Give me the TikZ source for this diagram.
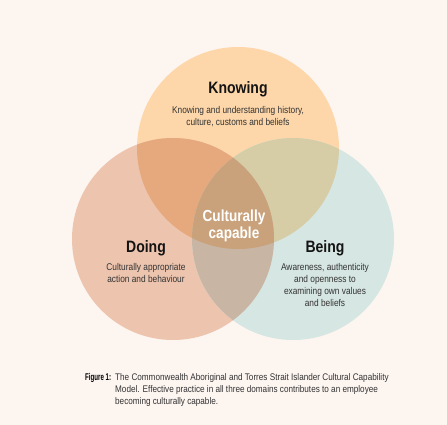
\documentclass[tikz,border=0pt]{standalone}
\usepackage{fontspec}
\setmainfont{Liberation Sans}[FakeStretch=0.85]
\usepackage{xcolor}
\usepackage{graphicx}
\usetikzlibrary{positioning}

\definecolor{bgcol}{HTML}{FDF5F0}
\definecolor{knowcol}{HTML}{FDD7AA}
\definecolor{doingcol}{HTML}{EDC4AE}
\definecolor{beingcol}{HTML}{D6E6E2}
\definecolor{kdcol}{HTML}{E6A97D}
\definecolor{kbcol}{HTML}{D6CCA5}
\definecolor{dbcol}{HTML}{C8B5A3}
\definecolor{allcol}{HTML}{C9A27B}

\begin{document}
\begin{tikzpicture}[
    x=1pt, y=-1pt,
    head/.style={anchor=base, font=\fontsize{16.5}{18}\selectfont\bfseries,
                 text=black!92, inner sep=0pt},
    desc/.style={anchor=base, align=center, inner sep=0pt,
                 font=\fontsize{9.8}{12}\selectfont, text=black!80},
    core/.style={anchor=base, align=center, inner sep=0pt, text=white,
                 font=\fontsize{16}{17}\selectfont\bfseries},
    capt/.style={anchor=base west, align=left, inner sep=0pt,
                 font=\fontsize{9.6}{12}\selectfont, text=black!80},
  ]
    \fill[bgcol] (0,0) rectangle (447,425);
    \useasboundingbox (0,0) rectangle (447,425);

    \coordinate (know)  at (238,148);
    \coordinate (doing) at (173,239);
    \coordinate (being) at (293,239);

    \fill[knowcol]  (know)  circle (101pt);
    \fill[doingcol] (doing) circle (101pt);
    \fill[beingcol] (being) circle (101pt);
    \begin{scope}
      \clip (know) circle (101pt);
      \fill[kdcol] (doing) circle (101pt);
      \fill[kbcol] (being) circle (101pt);
    \end{scope}
    \begin{scope}
      \clip (doing) circle (101pt);
      \fill[dbcol] (being) circle (101pt);
    \end{scope}
    \begin{scope}
      \clip (know) circle (101pt);
      \clip (doing) circle (101pt);
      \fill[allcol] (being) circle (101pt);
    \end{scope}

    \node[head] (knowhead) at (238,94) {Knowing};
    \node[desc] (knowtext) at (238,125)
      {Knowing and understanding history,\\ culture, customs and beliefs};
    \node[head] (doinghead) at (146,252) {Doing};
    \node[desc] (doingtext) at (146,282)
      {Culturally appropriate\\ action and behaviour};
    \node[head] (beinghead) at (325,252) {Being};
    \node[desc] (beingtext) at (325,306)
      {Awareness, authenticity\\ and openness to\\ examining own values\\ and beliefs};
    \node[core] (capable) at (234,238) {Culturally\\ capable};

    \node[capt, font=\fontsize{9.8}{12}\selectfont\bfseries, text=black]
      (figlabel) at (85,380) {\scalebox{0.74}[1]{Figure 1:}};
    \node[capt] (figtext) at (115,404)
      {The Commonwealth Aboriginal and Torres Strait Islander Cultural Capability\\
       Model. Effective practice in all three domains contributes to an employee\\
       becoming culturally capable.};
  \end{tikzpicture}
\end{document}
